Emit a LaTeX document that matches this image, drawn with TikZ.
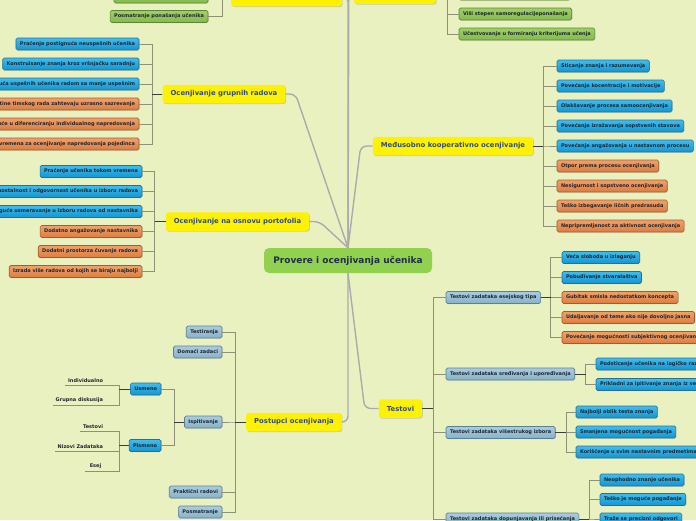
\documentclass[tikz,border=0pt]{standalone}
\usepackage{fontspec}
\setmainfont{DejaVu Sans}
\usepackage{xcolor}
\usepackage{tikz}
\usetikzlibrary{positioning,shadows}

\definecolor{paper}{HTML}{EAF1C0}
\definecolor{rootgreen}{HTML}{92D050}
\definecolor{rootink}{HTML}{1F2E4A}
\definecolor{topicink}{HTML}{2C4A8C}
\definecolor{leafink}{HTML}{1E2630}
\definecolor{bluetop}{HTML}{3DBDF0}
\definecolor{bluebot}{HTML}{1495D0}
\definecolor{blueedge}{HTML}{2B6F8E}
\definecolor{orangetop}{HTML}{F0A06A}
\definecolor{orangebot}{HTML}{DD7C40}
\definecolor{orangeedge}{HTML}{9E5E30}
\definecolor{greentop}{HTML}{9FCF68}
\definecolor{greenbot}{HTML}{84BA4C}
\definecolor{greenedge}{HTML}{5E8436}
\definecolor{steeltop}{HTML}{A8CCDF}
\definecolor{steelbot}{HTML}{88B2C9}
\definecolor{steeledge}{HTML}{5D7F92}
\definecolor{trunkgray}{HTML}{ABABAB}
\definecolor{branchgray}{HTML}{8E907A}
\definecolor{stemdark}{HTML}{3C3C3C}

\begin{document}
\begin{tikzpicture}[
    x=1pt, y=-1pt,
    font=\bfseries\fontsize{5}{6}\selectfont,
    node distance=8pt,
    root/.style={fill=rootgreen, rounded corners=5pt, minimum width=168pt, minimum height=25pt, text=rootink, font=\bfseries\fontsize{9}{10.8}\selectfont},
    topic/.style={fill=yellow, rounded corners=3pt, minimum height=18.5pt, inner xsep=8pt, text=topicink, font=\bfseries\fontsize{6.85}{8.2}\selectfont, drop shadow={shadow xshift=0.7pt, shadow yshift=-0.9pt, opacity=0.35}},
    leaf/.style={draw, rounded corners=1.6pt, line width=0.6pt, outer sep=0pt, minimum height=12pt, inner xsep=4pt, inner ysep=1pt, text=leafink, drop shadow={shadow xshift=0.5pt, shadow yshift=-0.6pt, opacity=0.25}},
    blueleaf/.style={leaf, draw=blueedge, top color=bluetop, bottom color=bluebot},
    orangeleaf/.style={leaf, draw=orangeedge, top color=orangetop, bottom color=orangebot},
    greenleaf/.style={leaf, draw=greenedge, top color=greentop, bottom color=greenbot},
    steelleaf/.style={leaf, draw=steeledge, top color=steeltop, bottom color=steelbot},
    plain/.style={inner xsep=3pt, inner ysep=2pt, outer sep=0pt, minimum width=21pt, text=leafink},
    trunk/.style={draw=trunkgray, line width=1.4pt, rounded corners=6pt},
    branch/.style={draw=branchgray, line width=0.5pt},
    stem/.style={draw=stemdark, line width=0.8pt}
]
\useasboundingbox (0,0) rectangle (696,520);
\fill[paper] (0,0) rectangle (696,520);
\clip (0,0) rectangle (696,520);

% main topics
\node[root] (root) at (348,260.5) {Provere i ocenjivanja učenika};
\node[topic, minimum width=111pt] (obs) at (286.5,-3) {};
\node[topic, minimum width=82pt] (self) at (395,-5.5) {};
\node[topic] (group) at (224,94) {Ocenjivanje grupnih radova};
\node[topic] (folio) at (237.5,221.5) {Ocenjivanje na osnovu portofolia};
\node[topic] (peer) at (453,146) {Međusobno kooperativno ocenjivanje};
\node[topic] (tests) at (400.5,408.5) {Testovi};
\node[topic] (proc) at (294,422) {Postupci ocenjivanja};

\draw[trunk] (obs.east) -- ++(6,0) -- (root.north);
\draw[trunk] (self.west) -- ++(-5,0) -- (root.north);
\draw[trunk] (group.east) -- ++(10,0) -- (root.north);
\draw[trunk] (folio.east) -- ++(10,0) -- (root.north);
\draw[trunk] (peer.west) -- ++(-12,0) -- (root.north);
\draw[trunk] (tests.west) -- ++(-14,0) -- (root.south);
\draw[trunk] (proc.east) -- ++(6,0) -- (root.south);

% top left and top right
\node[greenleaf, minimum width=94pt, anchor=east] (obs1) at (208,-3) {};
\node[greenleaf, anchor=east] (obs2) at (208,16.5) {Posmatranje ponašanja učenika};
\node[greenleaf, minimum width=111pt, anchor=west] (self1) at (459,-6) {};
\node[greenleaf, below=of self1.south west, anchor=north west] (self2) {Viši stepen samoregulacijeponašanja};
\node[greenleaf, below=of self2.south west, anchor=north west] (self3) {Učestvovanje u formiranju kriterijuma učenja};

\draw[branch] (obs.west) -- ++(-9,0) |- (obs1.east); \draw[branch] (obs.west) -- ++(-9,0) |- (obs2.east);
\draw[branch] (self.east) -- ++(11,0) |- (self1.west); \draw[branch] (self.east) -- ++(11,0) |- (self2.west); \draw[branch] (self.east) -- ++(11,0) |- (self3.west);

% grupni radovi
\node[blueleaf, anchor=east] (g1) at (139,44) {Praćenje postignuća neuspešnih učenika};
\node[blueleaf, below=of g1.south east, anchor=north east] (g2) {Konstruisanje znanja kroz vršnjačku saradnju};
\node[blueleaf, below=of g2.south east, anchor=north east] (g3) {uća uspešnih učenika radom sa manje uspešnim};
\node[orangeleaf, below=of g3.south east, anchor=north east] (g4) {tine timskog rada zahtevaju uzrasno sazrevanje};
\node[orangeleaf, below=of g4.south east, anchor=north east] (g5) {koće u diferenciranju individualnog napredovanja};
\node[orangeleaf, below=of g5.south east, anchor=north east] (g6) {vremena za ocenjivanje napredovanja pojedinca};

\draw[branch] (group.west) -- ++(-10,0) |- (g1.east); \draw[branch] (group.west) -- ++(-10,0) |- (g2.east); \draw[branch] (group.west) -- ++(-10,0) |- (g3.east);
\draw[branch] (group.west) -- ++(-10,0) |- (g4.east); \draw[branch] (group.west) -- ++(-10,0) |- (g5.east); \draw[branch] (group.west) -- ++(-10,0) |- (g6.east);
\draw[stem] (group.west) -- ++(-10,0);

% portfolio
\node[blueleaf, anchor=east] (p1) at (142,171.5) {Praćenje učenika tokom vremena};
\node[blueleaf, below=of p1.south east, anchor=north east] (p2) {nostalnost i odgovornost učenika u izboru radova};
\node[blueleaf, below=of p2.south east, anchor=north east] (p3) {oguće usmeravanje u izboru radova od nastavnika};
\node[orangeleaf, below=of p3.south east, anchor=north east] (p4) {Dodatno angažovanje nastavnika};
\node[orangeleaf, below=of p4.south east, anchor=north east] (p5) {Dodatni prostorza čuvanje radova};
\node[orangeleaf, below=of p5.south east, anchor=north east] (p6) {Izrada više radova od kojih se biraju najbolji};

\draw[branch] (folio.west) -- ++(-11,0) |- (p1.east); \draw[branch] (folio.west) -- ++(-11,0) |- (p2.east); \draw[branch] (folio.west) -- ++(-11,0) |- (p3.east);
\draw[branch] (folio.west) -- ++(-11,0) |- (p4.east); \draw[branch] (folio.west) -- ++(-11,0) |- (p5.east); \draw[branch] (folio.west) -- ++(-11,0) |- (p6.east);
\draw[stem] (folio.west) -- ++(-11,0);

% medjusobno ocenjivanje
\node[blueleaf, anchor=west] (m1) at (557,66) {Sticanje znanja i razumevanja};
\node[blueleaf, below=of m1.south west, anchor=north west] (m2) {Povećanje kocentracije i motivacije};
\node[blueleaf, below=of m2.south west, anchor=north west] (m3) {Olakšavanje procesa samoocenjivanja};
\node[blueleaf, below=of m3.south west, anchor=north west] (m4) {Povećanje izražavanja sopstvenih stavova};
\node[blueleaf, below=of m4.south west, anchor=north west] (m5) {Povećanje angažovanja u nastavnom procesu};
\node[orangeleaf, below=of m5.south west, anchor=north west] (m6) {Otpor prema procesu ocenjivanja};
\node[orangeleaf, below=of m6.south west, anchor=north west] (m7) {Nesigurnost i sopstveno ocenjivanje};
\node[orangeleaf, below=of m7.south west, anchor=north west] (m8) {Teško izbegavanje ličnih predrasuda};
\node[orangeleaf, below=of m8.south west, anchor=north west] (m9) {Nepripremljenost za aktivnost ocenjivanja};

\draw[branch] (peer.east) -- ++(10,0) |- (m1.west); \draw[branch] (peer.east) -- ++(10,0) |- (m2.west); \draw[branch] (peer.east) -- ++(10,0) |- (m3.west);
\draw[branch] (peer.east) -- ++(10,0) |- (m4.west); \draw[branch] (peer.east) -- ++(10,0) |- (m5.west); \draw[branch] (peer.east) -- ++(10,0) |- (m6.west);
\draw[branch] (peer.east) -- ++(10,0) |- (m7.west); \draw[branch] (peer.east) -- ++(10,0) |- (m8.west); \draw[branch] (peer.east) -- ++(10,0) |- (m9.west);
\draw[stem] (peer.east) -- ++(10,0);

% testovi
\node[steelleaf, anchor=west] (t1) at (446,297.5) {Testovi zadataka esejskog tipa};
\node[steelleaf, anchor=west] (t2) at (446,374) {Testovi zadataka sređivanja i upoređivanja};
\node[steelleaf, anchor=west] (t3) at (446,432.5) {Testovi zadataka višestrukog izbora};
\node[steelleaf, anchor=west] (t4) at (446,519) {Testovi zadataka dopunjavanja ili prisećanja};

\draw[branch] (tests.east) -- ++(11,0) |- (t1.west); \draw[branch] (tests.east) -- ++(11,0) |- (t2.west);
\draw[branch] (tests.east) -- ++(11,0) |- (t3.west); \draw[branch] (tests.east) -- ++(11,0) |- (t4.west);
\draw[stem] (tests.east) -- ++(11,0);

\node[blueleaf, anchor=west] (e1) at (562,257.5) {Veća sloboda u izlaganju};
\node[blueleaf, below=of e1.south west, anchor=north west] (e2) {Pobuđivanje stvaralaštva};
\node[orangeleaf, below=of e2.south west, anchor=north west] (e3) {Gubitak smisla nedostatkom koncepta};
\node[orangeleaf, below=of e3.south west, anchor=north west] (e4) {Udaljavanje od teme ako nije dovoljno jasna};
\node[orangeleaf, below=of e4.south west, anchor=north west] (e5) {Povećanje mogućnosti subjektivnog ocenjivanja};

\draw[branch] (t1.east) -- ++(10,0) |- (e1.west); \draw[branch] (t1.east) -- ++(10,0) |- (e2.west); \draw[branch] (t1.east) -- ++(10,0) |- (e3.west);
\draw[branch] (t1.east) -- ++(10,0) |- (e4.west); \draw[branch] (t1.east) -- ++(10,0) |- (e5.west);
\draw[stem] (t1.east) -- ++(10,0);

\node[blueleaf, anchor=west] (s1) at (596,364) {Podsticanje učenika na logičko raz\hspace{30pt}};
\node[blueleaf, anchor=west] (s2) at (596,384.5) {Prikladni za ipitivanje znanja iz ve\hspace{30pt}};

\draw[branch] (t2.east) -- ++(11,0) |- (s1.west); \draw[branch] (t2.east) -- ++(11,0) |- (s2.west);
\draw[stem] (t2.east) -- ++(11,0);

\node[blueleaf, anchor=west] (v1) at (576,412) {Najbolji oblik testa znanja};
\node[blueleaf, below=of v1.south west, anchor=north west] (v2) {Smanjena mogućnost pogađanja};
\node[blueleaf, below=of v2.south west, anchor=north west] (v3) {Korišćenje u svim nastavnim predmetima};

\draw[branch] (t3.east) -- ++(11,0) |- (v1.west); \draw[branch] (t3.east) -- ++(11,0) |- (v2.west); \draw[branch] (t3.east) -- ++(11,0) |- (v3.west);
\draw[stem] (t3.east) -- ++(11,0);

\node[blueleaf, anchor=west] (d1) at (600,480) {Neophodno znanje učenika};
\node[blueleaf, anchor=west] (d2) at (600,499.5) {Teško je moguće pogađanje};
\node[blueleaf, anchor=west] (d3) at (600,519) {Traže se precizni odgovori};

\draw[branch] (t4.east) -- ++(10,0) |- (d1.west); \draw[branch] (t4.east) -- ++(10,0) |- (d2.west); \draw[branch] (t4.east) -- ++(10,0) |- (d3.west);
\draw[stem] (t4.east) -- ++(10,0);

% postupci
\node[steelleaf, anchor=east] (q1) at (222,332) {Testiranja};
\node[steelleaf, below=of q1.south east, anchor=north east] (q2) {Domaći zadaci};
\node[steelleaf, anchor=east] (q3) at (222,422) {Ispitivanje};
\node[steelleaf, anchor=east] (q4) at (222,492) {Praktični radovi};
\node[steelleaf, below=of q4.south east, anchor=north east] (q5) {Posmatranje};

\draw[branch] (proc.west) -- ++(-11,0) |- (q1.east); \draw[branch] (proc.west) -- ++(-11,0) |- (q2.east); \draw[branch] (proc.west) -- ++(-11,0) |- (q3.east);
\draw[branch] (proc.west) -- ++(-11,0) |- (q4.east); \draw[branch] (proc.west) -- ++(-11,0) |- (q5.east);
\draw[stem] (proc.west) -- ++(-11,0);

\node[blueleaf, anchor=east] (oral) at (161,389) {Usmeno};
\node[blueleaf, anchor=east] (writ) at (161,445.5) {Pismeno};

\draw[branch] (q3.west) -- ++(-10,0) |- (oral.east); \draw[branch] (q3.west) -- ++(-10,0) |- (writ.east);
\draw[stem] (q3.west) -- ++(-10,0);

\node[plain, anchor=south east] (i1) at (106,385) {Individualno};
\node[plain, anchor=south east] (i2) at (106,405) {Grupna diskusija};
\node[plain, anchor=south east] (i3) at (106,431) {Testovi};
\node[plain, anchor=south east] (i4) at (106,451) {Nizovi Zadataka};
\node[plain, anchor=south east] (i5) at (106,471) {Esej};

\draw[branch] (oral.west) -- ++(-11,0) |- (i1.south west); \draw[branch] (oral.west) -- ++(-11,0) |- (i2.south west);
\draw[stem] (oral.west) -- ++(-11,0);
\draw[branch] (writ.west) -- ++(-10,0) |- (i3.south west); \draw[branch] (writ.west) -- ++(-10,0) |- (i4.south west); \draw[branch] (writ.west) -- ++(-10,0) |- (i5.south west);
\draw[stem] (writ.west) -- ++(-10,0);
\end{tikzpicture}
\end{document}
